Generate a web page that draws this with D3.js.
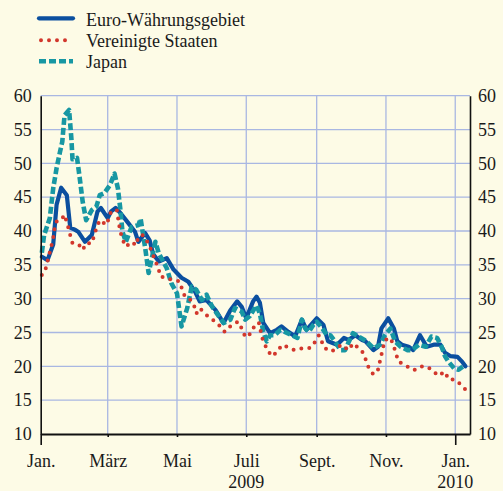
<!DOCTYPE html>
<html>
<head>
<meta charset="utf-8">
<script src="https://cdn.jsdelivr.net/npm/d3@7"></script>
<style>
  body { margin: 0; background: #fdfbe6; }
  svg { display: block; }
  text { font-family: "Liberation Serif", "Times New Roman", serif; fill: #1a1a1a; }
</style>
</head>
<body>
<div id="chart"></div>
<script>
// series (date, value)
const euroDates = ['2009-01-02','2009-01-07','2009-01-12','2009-01-15','2009-01-19','2009-01-24','2009-01-27','2009-01-31','2009-02-03','2009-02-09','2009-02-15','2009-02-20','2009-02-23','2009-03-01','2009-03-04','2009-03-08','2009-03-12','2009-03-19','2009-03-25','2009-03-28','2009-04-03','2009-04-07','2009-04-10','2009-04-15','2009-04-22','2009-04-28','2009-05-05','2009-05-11','2009-05-17','2009-05-21','2009-05-27','2009-06-04','2009-06-11','2009-06-17','2009-06-23','2009-06-27','2009-07-01','2009-07-07','2009-07-10','2009-07-13','2009-07-16','2009-07-22','2009-07-28','2009-08-01','2009-08-07','2009-08-13','2009-08-19','2009-08-23','2009-09-01','2009-09-07','2009-09-11','2009-09-19','2009-09-25','2009-09-29','2009-10-05','2009-10-11','2009-10-14','2009-10-21','2009-10-25','2009-10-28','2009-11-03','2009-11-08','2009-11-11','2009-11-15','2009-11-21','2009-11-25','2009-12-01','2009-12-07','2009-12-13','2009-12-19','2009-12-23','2009-12-28','2010-01-03','2010-01-07','2010-01-10'];
const euroValues = [36.2,35.7,38.0,43.9,46.4,45.3,40.5,40.2,39.9,38.4,39.4,42.9,43.4,41.9,42.9,43.4,42.7,41.2,39.9,38.4,39.7,38.6,36.6,35.5,36.0,34.3,33.1,32.5,31.0,29.6,29.8,28.3,26.4,28.3,29.6,28.8,27.1,29.6,30.3,29.4,26.4,24.9,25.4,25.9,25.1,24.4,26.9,25.4,27.1,26.1,23.7,23.2,24.2,23.9,24.6,23.9,23.7,22.4,22.9,25.6,27.1,25.6,23.7,23.2,22.9,22.4,24.6,22.9,23.2,23.2,22.0,21.5,21.4,20.7,20.0];

const usDates = ['2009-01-02','2009-01-05','2009-01-07','2009-01-12','2009-01-13','2009-01-15','2009-01-19','2009-01-22','2009-01-25','2009-01-27','2009-01-29','2009-02-04','2009-02-07','2009-02-10','2009-02-15','2009-02-19','2009-02-22','2009-02-28','2009-03-04','2009-03-09','2009-03-12','2009-03-15','2009-03-17','2009-03-22','2009-03-26','2009-03-28','2009-04-01','2009-04-04','2009-04-07','2009-04-15','2009-04-16','2009-04-21','2009-04-26','2009-05-03','2009-05-06','2009-05-08','2009-05-13','2009-05-16','2009-05-18','2009-05-21','2009-05-25','2009-05-30','2009-06-05','2009-06-12','2009-06-18','2009-06-24','2009-06-27','2009-06-30','2009-07-03','2009-07-06','2009-07-12','2009-07-15','2009-07-20','2009-07-25','2009-07-28','2009-08-03','2009-08-07','2009-08-13','2009-08-20','2009-08-26','2009-08-31','2009-09-03','2009-09-08','2009-09-14','2009-09-23','2009-09-29','2009-10-03','2009-10-08','2009-10-12','2009-10-17','2009-10-21','2009-10-25','2009-10-28','2009-10-31','2009-11-05','2009-11-08','2009-11-12','2009-11-18','2009-11-24','2009-11-28','2009-12-03','2009-12-08','2009-12-14','2009-12-17','2009-12-23','2009-12-26','2010-01-01','2010-01-06','2010-01-11'];
const usValues = [33.5,34.2,35.5,38.9,40.2,41.4,41.6,42.4,40.7,39.4,38.2,37.9,37.2,38.2,38.2,40.4,41.6,40.9,42.9,43.1,39.9,38.4,37.7,38.4,37.9,39.2,39.4,38.7,37.7,34.3,33.3,33.1,32.8,32.6,31.2,30.3,29.8,29.0,27.8,28.6,27.9,27.1,26.5,25.1,26.1,26.6,25.6,24.4,24.4,25.5,26.5,24.2,22.2,21.5,22.4,23.2,22.7,22.4,22.7,22.7,23.7,24.6,22.7,22.2,23.2,22.4,23.4,22.7,22.0,19.7,18.8,19.5,21.7,23.9,24.2,22.9,20.7,20.2,19.5,19.5,20.0,19.9,19.1,18.6,19.2,18.1,18.0,17.3,16.4];

const japanDates = ['2009-01-02','2009-01-04','2009-01-09','2009-01-12','2009-01-15','2009-01-18','2009-01-20','2009-01-22','2009-01-26','2009-01-28','2009-01-29','2009-02-02','2009-02-04','2009-02-07','2009-02-10','2009-02-15','2009-02-19','2009-02-22','2009-02-26','2009-03-03','2009-03-07','2009-03-10','2009-03-12','2009-03-14','2009-03-17','2009-03-22','2009-03-28','2009-03-30','2009-04-03','2009-04-06','2009-04-12','2009-04-15','2009-04-22','2009-04-26','2009-05-01','2009-05-05','2009-05-10','2009-05-14','2009-05-18','2009-05-23','2009-05-27','2009-06-01','2009-06-06','2009-06-11','2009-06-17','2009-06-21','2009-06-27','2009-06-30','2009-07-04','2009-07-10','2009-07-13','2009-07-16','2009-07-19','2009-07-22','2009-07-26','2009-07-31','2009-08-04','2009-08-10','2009-08-15','2009-08-19','2009-08-22','2009-08-25','2009-08-29','2009-09-01','2009-09-06','2009-09-10','2009-09-13','2009-09-17','2009-09-22','2009-09-26','2009-09-30','2009-10-03','2009-10-08','2009-10-14','2009-10-21','2009-10-27','2009-10-31','2009-11-05','2009-11-09','2009-11-14','2009-11-20','2009-11-24','2009-11-30','2009-12-06','2009-12-11','2009-12-16','2009-12-20','2009-12-23','2009-12-26','2009-12-31','2010-01-04','2010-01-08'];
const japanValues = [36.8,39.4,41.9,46.3,49.3,51.7,53.2,57.1,57.9,53.7,50.6,50.8,48.3,44.3,41.6,43.1,43.6,45.3,45.6,46.8,48.5,46.3,43.4,39.9,38.4,40.6,40.9,41.8,37.5,33.8,38.4,36.7,34.5,32.3,30.8,25.9,28.6,31.8,31.3,29.8,30.6,28.8,27.6,26.4,26.9,28.6,28.1,26.9,27.4,29.0,27.8,25.1,23.7,24.6,24.6,25.4,25.1,24.6,24.2,26.9,25.6,25.1,26.1,26.6,25.6,24.6,24.6,23.7,22.4,22.4,23.9,24.9,24.4,23.8,22.7,23.2,24.6,25.6,23.7,22.9,22.4,22.4,23.2,22.9,24.4,24.2,22.9,21.5,20.7,19.7,19.5,20.0];

const seriesNames = ['Euro-Währungsgebiet', 'Vereinigte Staaten', 'Japan'];
const yTicks = [10, 15, 20, 25, 30, 35, 40, 45, 50, 55, 60];
const monthTicks = ['2009-01-01','2009-03-01','2009-05-01','2009-07-01','2009-09-01','2009-11-01','2010-01-01'];
const monthLabels = ['Jan.', 'März', 'Mai', 'Juli', 'Sept.', 'Nov.', 'Jan.'];
const yearLabels = [['2009-07-01', '2009'], ['2010-01-01', '2010']];

const width = 503, height = 491;
const plotLeft = 40.7, plotRight = 470, plotTop = 95.7, plotBottom = 434;
const parse = d3.timeParse('%Y-%m-%d');

const colors = ['#0b4f9f', '#d2372c', '#1797a3'];
const dashes = [null, '0 8', '7 3'];
const strokeW = [4.2, 4, 4.6];
const caps = ['round', 'round', 'butt'];

const svg = d3.select('#chart').append('svg')
  .attr('width', width)
  .attr('height', height);

svg.append('rect').attr('width', width).attr('height', height).attr('fill', '#fdfbe6');

const x = d3.scaleTime()
  .domain([parse('2009-01-01'), parse('2010-01-14')])
  .range([plotLeft, plotRight]);
const y = d3.scaleLinear()
  .domain([10, 60])
  .range([plotBottom, plotTop]);

// grid
svg.append('g').selectAll('line')
  .data(yTicks.slice(1))
  .join('line')
  .attr('x1', plotLeft).attr('x2', plotRight)
  .attr('y1', d => y(d)).attr('y2', d => y(d))
  .attr('stroke', '#a9b7e2').attr('stroke-width', 1.3);
svg.append('g').selectAll('line')
  .data(monthTicks.slice(1).map(parse))
  .join('line')
  .attr('x1', d => x(d)).attr('x2', d => x(d))
  .attr('y1', plotTop).attr('y2', plotBottom)
  .attr('stroke', '#a9b7e2').attr('stroke-width', 1.3);

// series
const line = d3.line()
  .x(d => x(d[0]))
  .y(d => y(d[1]));

const series = [
  d3.zip(euroDates.map(parse), euroValues),
  d3.zip(japanDates.map(parse), japanValues),
  d3.zip(usDates.map(parse), usValues)
];
const order = [0, 2, 1]; // style index for each drawn series

series.forEach((data, i) => {
  const k = order[i];
  svg.append('path')
    .datum(data)
    .attr('d', line)
    .attr('fill', 'none')
    .attr('stroke', colors[k])
    .attr('stroke-width', strokeW[k])
    .attr('stroke-linecap', caps[k])
    .attr('stroke-linejoin', 'round')
    .attr('stroke-dasharray', dashes[k]);
});

// axes
const yAxisL = svg.append('g')
  .attr('transform', `translate(${plotLeft},0)`)
  .call(d3.axisLeft(y).tickValues(yTicks).tickSize(0).tickPadding(9));
const yAxisR = svg.append('g')
  .attr('transform', `translate(${plotRight},0)`)
  .call(d3.axisRight(y).tickValues(yTicks).tickSize(0).tickPadding(8));
[yAxisL, yAxisR].forEach(g => {
  g.select('.domain').attr('stroke', '#111').attr('stroke-width', 1.6);
  g.selectAll('text').style('font-size', '18px').attr('fill', '#1a1a1a');
});

const xAxis = svg.append('g')
  .attr('transform', `translate(0,${plotBottom})`)
  .call(d3.axisBottom(x)
    .tickValues(monthTicks.map(parse))
    .tickFormat((d, i) => monthLabels[i])
    .tickSize(3)
    .tickSizeOuter(0)
    .tickPadding(17));
xAxis.select('.domain').attr('stroke', '#111').attr('stroke-width', 2.2);
xAxis.selectAll('.tick line').attr('stroke', '#111').attr('stroke-width', 1.6)
  .attr('y2', d => d.getMonth() === 0 ? 11 : 3);
xAxis.selectAll('text').style('font-size', '18px').attr('fill', '#1a1a1a');

svg.append('g').selectAll('text')
  .data(yearLabels)
  .join('text')
  .attr('x', d => x(parse(d[0])))
  .attr('y', 488)
  .attr('text-anchor', 'middle')
  .style('font-size', '18px')
  .text(d => d[1]);

// legend
const legend = svg.append('g');
seriesNames.forEach((name, k) => {
  const ly = [18.3, 40.3, 61.3][k];
  legend.append('line')
    .attr('x1', k === 1 ? 41 : 39).attr('x2', 73)
    .attr('y1', ly).attr('y2', ly)
    .attr('stroke', colors[k])
    .attr('stroke-width', strokeW[k])
    .attr('stroke-linecap', caps[k])
    .attr('stroke-dasharray', dashes[k]);
  legend.append('text')
    .attr('x', 86)
    .attr('y', [26, 47, 68][k])
    .style('font-size', '18px')
    .text(name);
});
</script>
</body>
</html>
